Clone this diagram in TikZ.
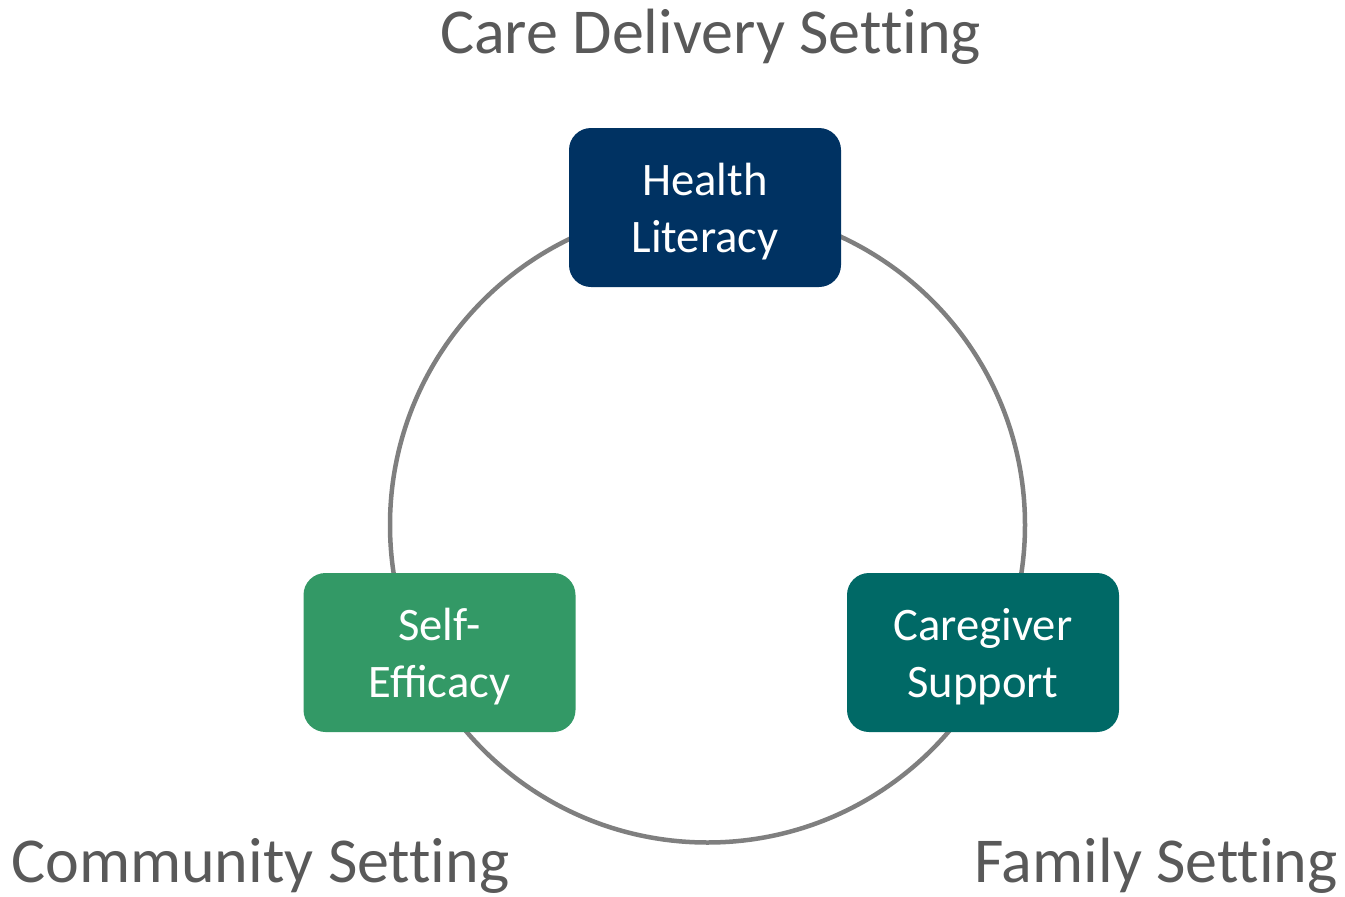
\documentclass[tikz,border=0pt]{standalone}
\usepackage{fontspec}
\setmainfont{Carlito}
\newfontfamily\settingfont{Carlito}[Ligatures=NoCommon]
\definecolor{navy}{HTML}{003262}
\definecolor{effgreen}{HTML}{339966}
\definecolor{careteal}{HTML}{006966}
\definecolor{ringgray}{HTML}{7F7F7F}
\definecolor{labelgray}{HTML}{595959}
\tikzset{
  factor/.style={rounded corners=22pt, minimum width=272pt, minimum height=159pt, inner sep=0pt},
  factortext/.style={text=white, align=center, inner sep=0pt, yshift=-4pt, font=\fontsize{46.6}{57.5}\selectfont},
  setting/.style={text=labelgray, inner sep=0pt, font=\settingfont\fontsize{64}{77}\selectfont},
  ring/.style={draw=ringgray, line width=4.5pt}
}
\begin{document}
\begin{tikzpicture}[x=1pt,y=-1pt]
\useasboundingbox (0,0) rectangle (1345,897);
\coordinate (c) at (707.5,525);
\draw[ring] (c) circle[radius=317.5pt];
\node[factor, fill=navy] (hl) at (705,207.5) {};
\node[factor, fill=effgreen] (se) at (439.5,652.5) {};
\node[factor, fill=careteal] (cs) at (983,652.5) {};
\node[factortext] (hlt) at (hl) {Health\\Literacy};
\node[factortext] (set) at (se) {Self-\\Efficacy};
\node[factortext] (cst) at (cs) {Caregiver\\Support};
\node[setting, anchor=base] (cds) at (710.5,53) {Care Delivery Setting};
\node[setting, anchor=base west] (com) at (11,882) {Community Setting};
\node[setting, anchor=base east] (fam) at (1338,882) {Family Setting};
\end{tikzpicture}
\end{document}
